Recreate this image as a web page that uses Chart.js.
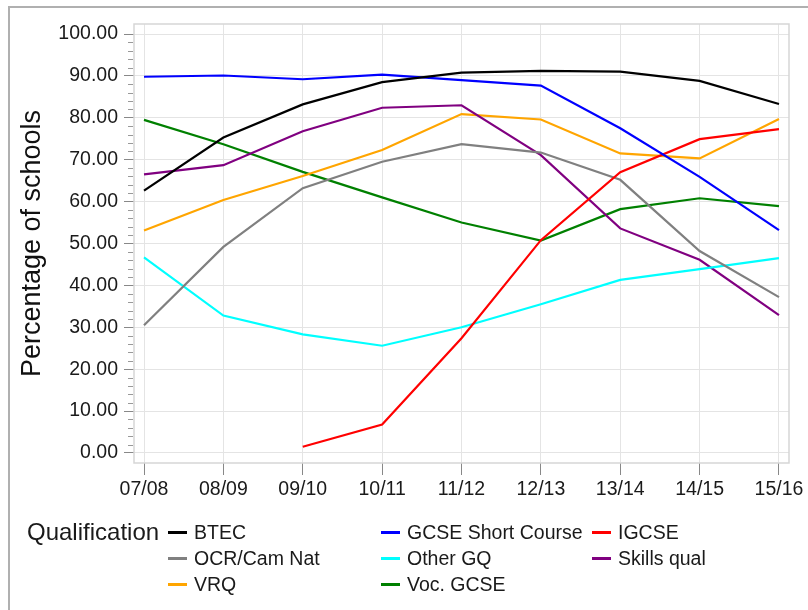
<!DOCTYPE html>
<html>
<head>
<meta charset="utf-8">
<script src="https://cdn.jsdelivr.net/npm/chart.js@4/dist/chart.umd.min.js"></script>
<style>
  body { margin: 0; background: #fff; }
  #wrap { position: relative; width: 808px; height: 610px; overflow: hidden; font-family: "Liberation Sans", Arial, sans-serif; color: #1a1a1a; }
  #frame { position: absolute; left: 8px; top: 6px; width: 900px; height: 700px; border: 2px solid #b0b0b0; }
  canvas { position: absolute; left: 0; top: 0; }
  .lg { position: absolute; font-size: 19.5px; line-height: 22px; white-space: nowrap; }
  .sw { position: absolute; height: 3px; }
</style>
</head>
<body>
<div id="wrap">
  <div id="frame"></div>
  <canvas id="chart" width="808" height="610"></canvas>
  <div id="legend"></div>
</div>
<script>
// school years
let labels = ["07/08", "08/09", "09/10", "10/11", "11/12", "12/13", "13/14", "14/15", "15/16"];
let yTicks = [0, 10, 20, 30, 40, 50, 60, 70, 80, 90, 100];

// percentage of schools per qualification
let btec     = [62.6, 75.3, 83.2, 88.5, 90.8, 91.2, 91.0, 88.8, 83.3];
let gcseSc   = [89.8, 90.1, 89.2, 90.3, 89.0, 87.7, 77.5, 65.9, 53.2];
let igcse    = [null, null, 1.5, 6.8, 27.4, 50.8, 67.0, 74.9, 77.3];
let ocrCam   = [30.5, 49.2, 63.2, 69.5, 73.7, 71.7, 65.2, 48.2, 37.2];
let otherGq  = [46.7, 32.8, 28.3, 25.6, 30.0, 35.5, 41.3, 43.9, 46.5];
let skills   = [66.5, 68.7, 76.8, 82.4, 83.0, 71.1, 53.6, 46.1, 32.9];
let vrq      = [53.1, 60.4, 66.1, 72.3, 80.9, 79.6, 71.5, 70.3, 79.7];
let vocGcse  = [79.5, 73.7, 67.1, 61.0, 55.0, 50.7, 58.2, 60.8, 58.9];

let series = [
    { name: "BTEC", data: btec, color: "#000000" },
    { name: "GCSE Short Course", data: gcseSc, color: "#0000ff" },
    { name: "IGCSE", data: igcse, color: "#ff0000" },
    { name: "OCR/Cam Nat", data: ocrCam, color: "#808080" },
    { name: "Other GQ", data: otherGq, color: "#00ffff" },
    { name: "Skills qual", data: skills, color: "#800080" },
    { name: "VRQ", data: vrq, color: "#ffa500" },
    { name: "Voc. GCSE", data: vocGcse, color: "#008000" }
];

let tickFont = { family: "'Liberation Sans', Arial, sans-serif", size: 19.5 };

// plot box + minor ticks on the y axis
const boxPlugin = {
    id: 'box',
    afterDraw(chart) {
        let ctx = chart.ctx;
        let a = chart.chartArea;
        let y = chart.scales.y;
        ctx.save();
        ctx.strokeStyle = '#d6d6d6';
        ctx.lineWidth = 1.5;
        ctx.strokeRect(a.left, a.top, a.right - a.left, a.bottom - a.top);
        ctx.strokeStyle = '#999';
        ctx.lineWidth = 1;
        for (let v = 0; v <= 100; v += 2) {
            if (v % 10 === 0) continue;
            let py = Math.round(y.getPixelForValue(v)) + 0.5;
            ctx.beginPath();
            ctx.moveTo(a.left - 6, py);
            ctx.lineTo(a.left - 1, py);
            ctx.stroke();
        }
        ctx.restore();
    }
};

var ctx = document.getElementById("chart");
var myChart = new Chart(ctx, {
    type: 'line',
    data: {
        datasets: series.map(s => ({
            label: s.name,
            data: s.data.map((v, i) => ({ x: i, y: v })),
            borderColor: s.color,
            backgroundColor: s.color,
            borderWidth: 2.2,
            pointRadius: 0,
            tension: 0,
            spanGaps: false
        }))
    },
    options: {
        responsive: false,
        animation: false,
        layout: { padding: { left: 0, top: 24, right: 19, bottom: 107 } },
        plugins: { legend: { display: false }, tooltip: { enabled: false } },
        scales: {
            x: {
                type: 'linear',
                min: -0.126,
                max: labels.length - 1 + 0.126,
                afterBuildTicks: (scale) => { scale.ticks = labels.map((l, i) => ({ value: i })); },
                afterFit: (scale) => { scale.height = 40; },
                ticks: {
                    callback: (v) => labels[v],
                    font: tickFont,
                    color: '#1a1a1a',
                    padding: 3,
                    maxRotation: 0,
                    autoSkip: false
                },
                grid: { color: '#e4e4e4', lineWidth: 1, tickColor: '#888', tickLength: 12 },
                border: { display: false }
            },
            y: {
                min: -2.39,
                max: 102.39,
                afterBuildTicks: (scale) => { scale.ticks = yTicks.map(v => ({ value: v })); },
                afterFit: (scale) => { scale.width = 134; },
                ticks: {
                    callback: (v) => v.toFixed(2),
                    font: tickFont,
                    color: '#1a1a1a',
                    padding: 6
                },
                grid: { color: '#e4e4e4', lineWidth: 1, tickColor: '#888', tickLength: 10 },
                border: { display: false },
                title: {
                    display: true,
                    text: 'Percentage of schools',
                    font: { family: "'Liberation Sans', Arial, sans-serif", size: 27 },
                    color: '#111',
                    padding: { top: 16, bottom: 0 }
                }
            }
        }
    },
    plugins: [boxPlugin]
});

// legend below the chart: title then three columns
let legend = document.getElementById("legend");
let title = document.createElement("div");
title.className = "lg";
title.style.left = "27px";
title.style.top = "519px";
title.style.fontSize = "24px";
title.style.lineHeight = "26px";
title.textContent = "Qualification";
legend.appendChild(title);

let colX = [168, 381, 592];
let rowY = [532, 558, 584];
series.forEach((s, i) => {
    let cx = colX[i % 3];
    let cy = rowY[Math.floor(i / 3)];
    let sw = document.createElement("div");
    sw.className = "sw";
    sw.style.left = cx + "px";
    sw.style.top = (cy - 1) + "px";
    sw.style.width = "19px";
    sw.style.background = s.color;
    legend.appendChild(sw);
    let t = document.createElement("div");
    t.className = "lg";
    t.style.left = (cx + 26) + "px";
    t.style.top = (cy - 11) + "px";
    t.textContent = s.name;
    legend.appendChild(t);
});
</script>
</body>
</html>
